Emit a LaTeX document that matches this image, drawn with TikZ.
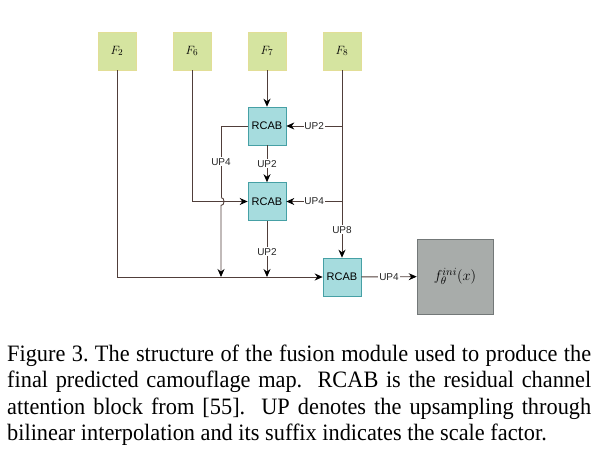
\documentclass[tikz,border=0pt]{standalone}
\usepackage{fontspec}
\setmainfont{Liberation Serif}
\setsansfont{Liberation Sans}
\newfontfamily\capfont[FakeStretch=0.95]{Liberation Serif}
\usetikzlibrary{arrows.meta}
\definecolor{fgreen}{RGB}{213,228,160}
\definecolor{fgreenb}{RGB}{226,222,150}
\definecolor{rcab}{RGB}{166,220,222}
\definecolor{rcabb}{RGB}{70,160,165}
\definecolor{outg}{RGB}{168,172,170}
\definecolor{outb}{RGB}{115,120,120}
\definecolor{wire}{RGB}{80,62,58}
\tikzset{
  fbox/.style={draw=fgreenb, fill=fgreen, line width=0.6pt, minimum width=38pt, minimum height=38pt, inner sep=0pt, font=\fontsize{13}{15}\selectfont},
  rbox/.style={draw=rcabb, fill=rcab, line width=0.6pt, minimum width=38pt, minimum height=38pt, inner sep=0pt, font=\sffamily\fontsize{11}{13}\selectfont},
  obox/.style={draw=outb, fill=outg, line width=0.6pt, minimum width=76pt, minimum height=75pt, inner sep=0pt, font=\fontsize{15}{17}\selectfont},
  wireline/.style={draw=wire, line width=0.9pt},
  arr/.style={wireline, -{Stealth[length=8pt,width=7pt,color=black]}},
  uplab/.style={fill=white, inner sep=0.8pt, font=\sffamily\fontsize{10}{12}\selectfont, text=black!85},
}
\begin{document}
\begin{tikzpicture}[x=1pt,y=-1pt]
\useasboundingbox (0,0) rectangle (600,465);
\fill[white] (0,0) rectangle (600,465);
% feature boxes
\node[fbox] (F2) at (117,51) {$F_2$};
\node[fbox] (F6) at (192,51) {$F_6$};
\node[fbox] (F7) at (267,51) {$F_7$};
\node[fbox] (F8) at (342,51) {$F_8$};
% RCAB blocks
\node[rbox] (R1) at (267,126) {RCAB};
\node[rbox] (R2) at (267,201.5) {RCAB};
\node[rbox] (R3) at (342,277) {RCAB};
\node[obox] (O) at (455,276.5) {$f_\theta^{ini}(x)$};
% junctions
\coordinate (j81) at (342,126);
\coordinate (j82) at (342,201.5);
\coordinate (u1) at (221,126);
\coordinate (u1a) at (221,197.5);
\coordinate (u1b) at (221,205.5);
\coordinate (u2) at (221,277);
\coordinate (d2) at (267,277);
\coordinate (c6) at (192,201.5);
\coordinate (c2) at (117,277);
% connectors
\draw[arr] (F7) -- (R1);
\draw[arr] (F8) -- node[uplab, pos=0.85] {UP8} (R3);
\draw[arr] (j81) -- node[uplab] {UP2} (R1);
\draw[arr] (j82) -- node[uplab] {UP4} (R2);
\draw[arr] (R1) -- node[uplab] {UP2} (R2);
\draw[arr] (R2) -- node[uplab, pos=0.55] {UP2} (d2);
\draw[wireline] (R1.west) -- (u1) -- node[uplab, pos=0.5] {UP4} (u1a);
\draw[arr] (u1a) .. controls (225,197.5) and (225,205.5) .. (u1b) -- (u2);
\draw[arr] (F6) |- (c6) -- (R2);
\draw[arr] (F2) |- (c2) -- (R3);
\draw[arr] (R3) -- node[uplab] {UP4} (O);
% caption
\node[anchor=north west, inner sep=0pt, text width=584pt, align=justify,
      font=\capfont\fontsize{23.5}{26.2}\selectfont\frenchspacing] (cap) at (7,345)
{Figure 3. The structure of the fusion module used to produce the\linebreak
final predicted camouflage map.\ \ RCAB is the residual channel\linebreak
attention block from [55].\ \ UP denotes the upsampling through\linebreak
bilinear interpolation and its suffix indicates the scale factor.\par};
\end{tikzpicture}
\end{document}
